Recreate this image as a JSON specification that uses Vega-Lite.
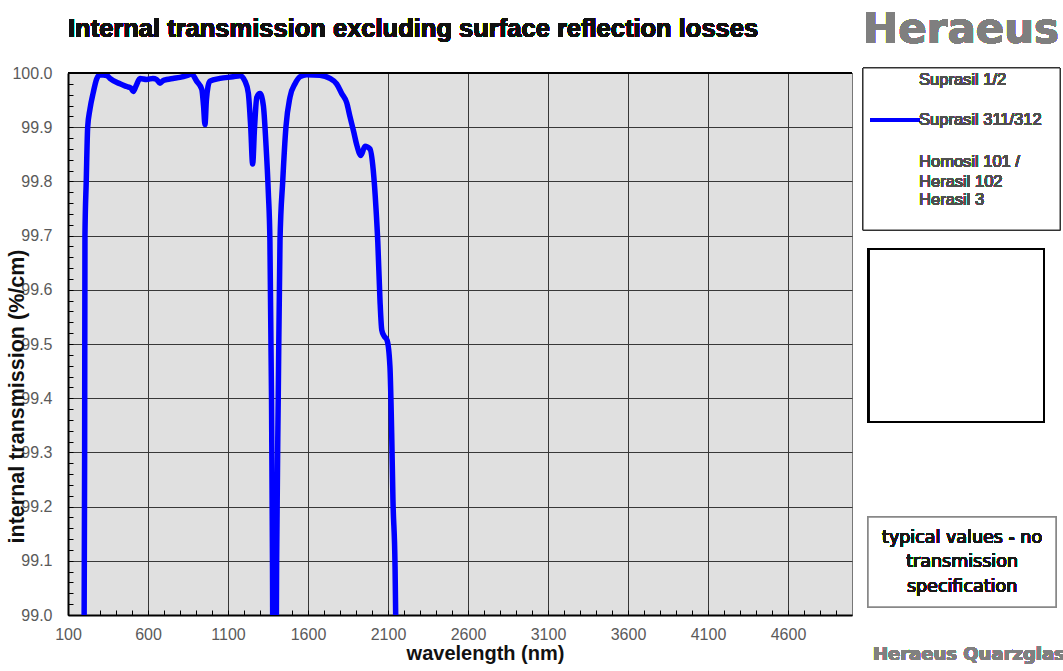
{
  "$schema": "https://vega.github.io/schema/vega-lite/v6.json",
  "width": 784,
  "height": 542,
  "autosize": {"type": "none"},
  "padding": {"left": 68, "top": 73, "right": 211, "bottom": 56},
  "background": "#ffffff",
  "config": {
    "view": {"fill": "#e0e0e0", "stroke": "#777777", "strokeWidth": 1},
    "axis": {
      "labelFont": "Liberation Sans",
      "labelFontSize": 16,
      "labelColor": "#5a5a5a",
      "titleFont": "Liberation Sans",
      "titleFontWeight": "bold",
      "titleColor": "#111111",
      "domainColor": "#000000",
      "domainWidth": 2,
      "tickColor": "#000000",
      "tickWidth": 1,
      "tickSize": -5,
      "tickCount": 500,
      "gridColor": "#383838",
      "gridWidth": 1,
      "labelOverlap": false,
      "labelBound": false,
      "labelFlush": false
    }
  },
  "data": {
    "values": [
      {"wl": 200, "t": 98.9}, {"wl": 204, "t": 99.3}, {"wl": 206, "t": 99.7}, {"wl": 214, "t": 99.8},
      {"wl": 223, "t": 99.9}, {"wl": 237, "t": 99.933}, {"wl": 258, "t": 99.964}, {"wl": 279, "t": 99.989},
      {"wl": 300, "t": 99.997}, {"wl": 344, "t": 99.995}, {"wl": 362, "t": 99.99}, {"wl": 425, "t": 99.98},
      {"wl": 467, "t": 99.975}, {"wl": 494, "t": 99.972}, {"wl": 508, "t": 99.966}, {"wl": 525, "t": 99.976},
      {"wl": 550, "t": 99.99}, {"wl": 592, "t": 99.988}, {"wl": 631, "t": 99.99}, {"wl": 654, "t": 99.988},
      {"wl": 675, "t": 99.981}, {"wl": 694, "t": 99.986}, {"wl": 717, "t": 99.988}, {"wl": 756, "t": 99.99},
      {"wl": 800, "t": 99.992}, {"wl": 842, "t": 99.995}, {"wl": 873, "t": 99.998}, {"wl": 904, "t": 99.985},
      {"wl": 936, "t": 99.97}, {"wl": 947, "t": 99.94}, {"wl": 956, "t": 99.905}, {"wl": 965, "t": 99.95},
      {"wl": 975, "t": 99.975}, {"wl": 987, "t": 99.985}, {"wl": 1050, "t": 99.99}, {"wl": 1131, "t": 99.993},
      {"wl": 1175, "t": 99.995}, {"wl": 1206, "t": 99.985}, {"wl": 1227, "t": 99.963}, {"wl": 1242, "t": 99.9},
      {"wl": 1254, "t": 99.832}, {"wl": 1266, "t": 99.9}, {"wl": 1280, "t": 99.955}, {"wl": 1300, "t": 99.962},
      {"wl": 1321, "t": 99.94}, {"wl": 1337, "t": 99.87}, {"wl": 1352, "t": 99.78}, {"wl": 1362, "t": 99.69},
      {"wl": 1372, "t": 99.4}, {"wl": 1378, "t": 99.1}, {"wl": 1381, "t": 98.9}, {"wl": 1400, "t": 98.9},
      {"wl": 1404, "t": 99.1}, {"wl": 1414, "t": 99.4}, {"wl": 1425, "t": 99.69}, {"wl": 1442, "t": 99.8},
      {"wl": 1462, "t": 99.9},
      {"wl": 1487, "t": 99.955}, {"wl": 1519, "t": 99.98}, {"wl": 1550, "t": 99.993}, {"wl": 1592, "t": 99.997},
      {"wl": 1675, "t": 99.996}, {"wl": 1737, "t": 99.99}, {"wl": 1779, "t": 99.98}, {"wl": 1811, "t": 99.962},
      {"wl": 1842, "t": 99.945}, {"wl": 1862, "t": 99.92}, {"wl": 1887, "t": 99.89}, {"wl": 1904, "t": 99.868},
      {"wl": 1931, "t": 99.848}, {"wl": 1956, "t": 99.865}, {"wl": 1987, "t": 99.86}, {"wl": 2008, "t": 99.82},
      {"wl": 2025, "t": 99.75}, {"wl": 2036, "t": 99.69}, {"wl": 2050, "t": 99.58}, {"wl": 2061, "t": 99.526},
      {"wl": 2075, "t": 99.515}, {"wl": 2094, "t": 99.507}, {"wl": 2112, "t": 99.459}, {"wl": 2123, "t": 99.336},
      {"wl": 2131, "t": 99.212}, {"wl": 2144, "t": 99.09}, {"wl": 2148, "t": 99.0}, {"wl": 2153, "t": 98.9}
    ]
  },
  "layer": [
    {
      "mark": {"type": "line", "color": "#0000ff", "strokeWidth": 5.5, "clip": true, "interpolate": "monotone"},
      "encoding": {
        "x": {
          "field": "wl", "type": "quantitative",
          "scale": {"domain": [100, 5000], "nice": false, "zero": false},
          "axis": {
            "title": "wavelength (nm)",
            "titleFontSize": 20,
            "titleX": 417,
            "titleY": 44,
            "titleBaseline": "alphabetic",
            "titleAlign": "center",
            "format": "d",
            "tickCount": 500,
            "values": [100,200,300,400,500,600,700,800,900,1000,1100,1200,1300,1400,1500,1600,1700,1800,1900,2000,2100,2200,2300,2400,2500,2600,2700,2800,2900,3000,3100,3200,3300,3400,3500,3600,3700,3800,3900,4000,4100,4200,4300,4400,4500,4600,4700,4800,4900],
            "labelExpr": "(datum.value - 100) % 500 == 0 ? datum.label : ''",
            "labelPadding": 16,
            "grid": true,
            "gridOpacity": {"condition": {"test": "(datum.value - 100) % 500 == 0", "value": 1}, "value": 0}
          }
        },
        "y": {
          "field": "t", "type": "quantitative",
          "scale": {"domain": [99, 100], "nice": false, "zero": false},
          "axis": {
            "title": "internal transmission (%/cm)",
            "titleFontSize": 21.5,
            "titleAngle": 270,
            "titleX": -51,
            "titleY": 323,
            "titleAlign": "center",
            "titleBaseline": "middle",
            "tickCount": 500,
            "values": [99,99.02,99.04,99.06,99.08,99.1,99.12,99.14,99.16,99.18,99.2,99.22,99.24,99.26,99.28,99.3,99.32,99.34,99.36,99.38,99.4,99.42,99.44,99.46,99.48,99.5,99.52,99.54,99.56,99.58,99.6,99.62,99.64,99.66,99.68,99.7,99.72,99.74,99.76,99.78,99.8,99.82,99.84,99.86,99.88,99.9,99.92,99.94,99.96,99.98,100],
            "labelExpr": "abs(datum.value*10 - round(datum.value*10)) < 0.01 ? format(datum.value, '.1f') : ''",
            "labelPadding": 21,
            "grid": true,
            "gridOpacity": {"condition": {"test": "abs(datum.value*10 - round(datum.value*10)) < 0.01", "value": 1}, "value": 0}
          }
        }
      }
    },
    {
      "mark": {"type": "rule", "color": "#000000", "strokeWidth": 2},
      "encoding": {
        "y": {"datum": 100, "type": "quantitative", "scale": {"domain": [99, 100], "nice": false, "zero": false}}
      }
    },
    {
      "mark": {"type": "text", "text": "Internal transmission excluding surface reflection losses", "font": "Liberation Sans", "fontSize": 25.5, "fontWeight": "bold", "color": "#111111", "align": "left", "baseline": "alphabetic"},
      "encoding": {
        "x": {"datum": 100, "type": "quantitative", "scale": {"domain": [100, 5000], "nice": false, "zero": false}},
        "y": {"datum": 100.0664, "type": "quantitative", "scale": {"domain": [99, 100], "nice": false, "zero": false}}
      }
    },
    {
      "mark": {"type": "rect", "fill": "#ffffff", "stroke": "#333333", "strokeWidth": 1},
      "encoding": {
        "x": {"datum": 5069, "type": "quantitative", "scale": {"domain": [100, 5000], "nice": false, "zero": false}},
        "x2": {"datum": 6300},
        "y": {"datum": 100.0092, "type": "quantitative", "scale": {"domain": [99, 100], "nice": false, "zero": false}},
        "y2": {"datum": 99.7103}
      }
    },
    {
      "mark": {"type": "rect", "fill": "#ffffff", "stroke": "#000000", "strokeWidth": 2},
      "encoding": {
        "x": {"datum": 5106, "type": "quantitative", "scale": {"domain": [100, 5000], "nice": false, "zero": false}},
        "x2": {"datum": 6200},
        "y": {"datum": 99.6753, "type": "quantitative", "scale": {"domain": [99, 100], "nice": false, "zero": false}},
        "y2": {"datum": 99.3561}
      }
    },
    {
      "mark": {"type": "rect", "fill": "#ffffff", "stroke": "#888888", "strokeWidth": 1.5},
      "encoding": {
        "x": {"datum": 5100, "type": "quantitative", "scale": {"domain": [100, 5000], "nice": false, "zero": false}},
        "x2": {"datum": 6275},
        "y": {"datum": 99.1808, "type": "quantitative", "scale": {"domain": [99, 100], "nice": false, "zero": false}},
        "y2": {"datum": 99.0148}
      }
    },
    {
      "mark": {"type": "rule", "color": "#0000ff", "strokeWidth": 4, "strokeCap": "round"},
      "encoding": {
        "x": {"datum": 5125, "type": "quantitative", "scale": {"domain": [100, 5000], "nice": false, "zero": false}},
        "x2": {"datum": 5412},
        "y": {"datum": 99.9133, "type": "quantitative", "scale": {"domain": [99, 100], "nice": false, "zero": false}}
      }
    },
    {
      "mark": {"type": "text", "text": "Suprasil 1/2", "font": "Liberation Sans", "fontSize": 16.5, "color": "#505050", "align": "left", "baseline": "middle"},
      "encoding": {
        "x": {"datum": 5419, "type": "quantitative", "scale": {"domain": [100, 5000], "nice": false, "zero": false}},
        "y": {"datum": 99.9871, "type": "quantitative", "scale": {"domain": [99, 100], "nice": false, "zero": false}}
      }
    },
    {
      "mark": {"type": "text", "text": "Suprasil 311/312", "font": "Liberation Sans", "fontSize": 16.5, "color": "#505050", "align": "left", "baseline": "middle"},
      "encoding": {
        "x": {"datum": 5419, "type": "quantitative", "scale": {"domain": [100, 5000], "nice": false, "zero": false}},
        "y": {"datum": 99.9133, "type": "quantitative", "scale": {"domain": [99, 100], "nice": false, "zero": false}}
      }
    },
    {
      "mark": {"type": "text", "text": "Homosil 101 /", "font": "Liberation Sans", "fontSize": 16.5, "color": "#505050", "align": "left", "baseline": "middle"},
      "encoding": {
        "x": {"datum": 5419, "type": "quantitative", "scale": {"domain": [100, 5000], "nice": false, "zero": false}},
        "y": {"datum": 99.8363, "type": "quantitative", "scale": {"domain": [99, 100], "nice": false, "zero": false}}
      }
    },
    {
      "mark": {"type": "text", "text": "Herasil 102", "font": "Liberation Sans", "fontSize": 16.5, "color": "#505050", "align": "left", "baseline": "middle"},
      "encoding": {
        "x": {"datum": 5419, "type": "quantitative", "scale": {"domain": [100, 5000], "nice": false, "zero": false}},
        "y": {"datum": 99.7994, "type": "quantitative", "scale": {"domain": [99, 100], "nice": false, "zero": false}}
      }
    },
    {
      "mark": {"type": "text", "text": "Herasil 3", "font": "Liberation Sans", "fontSize": 16.5, "color": "#505050", "align": "left", "baseline": "middle"},
      "encoding": {
        "x": {"datum": 5419, "type": "quantitative", "scale": {"domain": [100, 5000], "nice": false, "zero": false}},
        "y": {"datum": 99.7657, "type": "quantitative", "scale": {"domain": [99, 100], "nice": false, "zero": false}}
      }
    },
    {
      "mark": {"type": "text", "text": ["typical values - no", "transmission", "specification"], "lineHeight": 24.5, "font": "DejaVu Sans", "fontSize": 17.5, "color": "#1a1a1a", "align": "center", "baseline": "middle"},
      "encoding": {
        "x": {"datum": 5688, "type": "quantitative", "scale": {"domain": [100, 5000], "nice": false, "zero": false}},
        "y": {"datum": 99.1421, "type": "quantitative", "scale": {"domain": [99, 100], "nice": false, "zero": false}}
      }
    },
    {
      "mark": {"type": "text", "text": "Heraeus", "font": "DejaVu Sans", "fontSize": 42, "fontWeight": "bold", "color": "#7f7f7f", "align": "left", "baseline": "alphabetic"},
      "encoding": {
        "x": {"datum": 5069, "type": "quantitative", "scale": {"domain": [100, 5000], "nice": false, "zero": false}},
        "y": {"datum": 100.0554, "type": "quantitative", "scale": {"domain": [99, 100], "nice": false, "zero": false}}
      }
    },
    {
      "mark": {"type": "text", "text": "Heraeus Quarzglas", "font": "DejaVu Sans", "fontSize": 18, "fontWeight": "bold", "color": "#808080", "align": "left", "baseline": "alphabetic"},
      "encoding": {
        "x": {"datum": 5131, "type": "quantitative", "scale": {"domain": [100, 5000], "nice": false, "zero": false}},
        "y": {"datum": 98.917, "type": "quantitative", "scale": {"domain": [99, 100], "nice": false, "zero": false}}
      }
    }
  ]
}
